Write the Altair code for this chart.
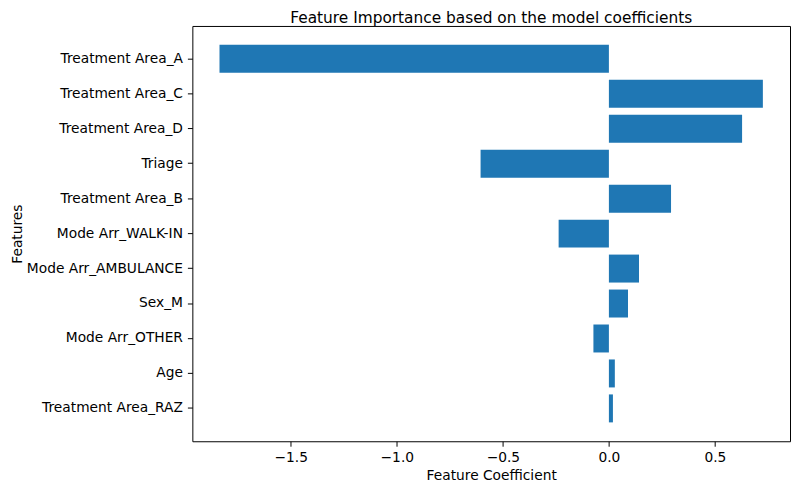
import altair as alt
import pandas as pd

features = [
    "Treatment Area_A", "Treatment Area_C", "Treatment Area_D", "Triage",
    "Treatment Area_B", "Mode Arr_WALK-IN", "Mode Arr_AMBULANCE", "Sex_M",
    "Mode Arr_OTHER", "Age", "Treatment Area_RAZ",
]
coefficients = [-1.836, 0.726, 0.628, -0.605, 0.293, -0.237, 0.142, 0.090, -0.073, 0.028, 0.019]
x_ticks = [-1.5, -1.0, -0.5, 0.0, 0.5]

df = pd.DataFrame({"Feature": features, "Coefficient": coefficients})

FONT = "DejaVu Sans"

chart = alt.Chart(df).mark_bar(color="#1f77b4").encode(
    x=alt.X(
        "Coefficient:Q",
        scale=alt.Scale(domain=[-1.964, 0.854], nice=False, zero=False),
        axis=alt.Axis(
            values=x_ticks, format=".1f", title="Feature Coefficient",
            titlePadding=5, labelPadding=4, tickSize=5,
        ),
    ),
    y=alt.Y(
        "Feature:N",
        sort=features,
        scale=alt.Scale(paddingInner=0.2, paddingOuter=0.54),
        axis=alt.Axis(title="Features", titlePadding=2, labelPadding=5, tickSize=5),
    ),
).properties(
    width=603,
    height=419,
    autosize=alt.AutoSizeParams(type="none"),
    padding={"left": 186, "top": 16, "right": 2, "bottom": 42},
    title=alt.TitleParams(
        "Feature Importance based on the model coefficients",
        fontSize=15.5, font=FONT, fontWeight="normal", color="black",
        anchor="middle", offset=3, dy=4,
    ),
).configure_view(
    stroke="black", strokeWidth=1
).configure_axis(
    grid=False,
    domain=False,
    tickColor="black",
    tickWidth=1,
    labelColor="black",
    labelFont=FONT,
    labelFontSize=13.9,
    titleFont=FONT,
    titleFontSize=13.9,
    titleFontWeight="normal",
    titleColor="black",
)

chart.save("out.html", embed_options={"renderer": "svg", "actions": False})
